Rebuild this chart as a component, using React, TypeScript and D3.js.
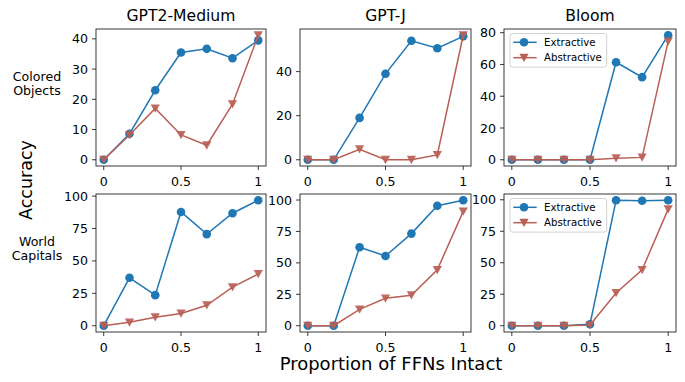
import React from 'react';
import * as d3 from 'd3';

// x positions: fraction of FFNs left intact
const proportions = [0, 1 / 6, 2 / 6, 3 / 6, 4 / 6, 5 / 6, 1];

const models = ['GPT2-Medium', 'GPT-J', 'Bloom'];
const tasks = [['Colored', 'Objects'], ['World', 'Capitals']];

// Colored Objects
const coloredExtractive = [
  [0, 8.6, 23, 35.5, 36.7, 33.6, 39.5],
  [0, 0, 19, 39, 54, 50.6, 56],
  [0, 0, 0, 0, 61.4, 52, 78.4],
];
const coloredAbstractive = [
  [0, 8.2, 17, 8.2, 4.8, 18.4, 41.2],
  [0, 0, 4.8, 0, 0, 2.2, 56.5],
  [0, 0, 0, 0, 1, 1.5, 74.5],
];

// World Capitals
const capitalsExtractive = [
  [0, 37, 23.6, 87.8, 70.7, 86.8, 96.8],
  [0, 0, 62.4, 55.5, 73.3, 95.5, 99.8],
  [0, 0, 0, 1.2, 99.6, 99.2, 99.6],
];
const capitalsAbstractive = [
  [0, 2.6, 6.6, 9.5, 15.8, 29.8, 40],
  [0, 0, 13, 21.8, 24.3, 44.5, 91],
  [0, 0, 0, 0.5, 26, 44.4, 92.6],
];

const yTicks = [
  [[0, 10, 20, 30, 40], [0, 20, 40], [0, 20, 40, 60, 80]],
  [[0, 25, 50, 75, 100], [0, 25, 50, 75, 100], [0, 25, 50, 75, 100]],
];
const xTicks = [0, 0.5, 1];
const xTickLabels = ['0', '0.5', '1'];

const seriesNames = ['Extractive', 'Abstractive'];
const BLUE = '#1f77b4';
const RED = '#b95f55';
const FONT = 'DejaVu Sans, sans-serif';

const colBounds = [[96, 266], [300, 471], [504, 676]];
const rowBounds = [[29, 166], [194, 332]];

const tri = (x: number, y: number, s: number) =>
  `M${x - s},${y - s * 0.85}L${x + s},${y - s * 0.85}L${x},${y + s * 0.95}Z`;

function Panel({ row, col }: { row: number; col: number }) {
  const [x0, x1] = colBounds[col];
  const [y0, y1] = rowBounds[row];
  const ext = row === 0 ? coloredExtractive[col] : capitalsExtractive[col];
  const abs = row === 0 ? coloredAbstractive[col] : capitalsAbstractive[col];
  const all = ext.concat(abs);
  const lo = d3.min(all)!;
  const hi = d3.max(all)!;
  const pad = (hi - lo) * 0.05;

  const x = d3.scaleLinear().domain([-0.05, 1.05]).range([x0, x1]);
  const y = d3.scaleLinear().domain([lo - pad, hi + pad]).range([y1, y0]);
  const line = d3.line<number>().x((_, i) => x(proportions[i])).y((d) => y(d));

  const showLegend = col === 2;
  return (
    <g>
      <rect x={x0} y={y0} width={x1 - x0} height={y1 - y0} fill="white" />
      <path d={line(ext)!} fill="none" stroke={BLUE} strokeWidth={1.5} />
      {ext.map((d, i) => (
        <circle key={'e' + i} cx={x(proportions[i])} cy={y(d)} r={4.3} fill={BLUE} />
      ))}
      <path d={line(abs)!} fill="none" stroke={RED} strokeWidth={1.5} />
      {abs.map((d, i) => (
        <path key={'a' + i} d={tri(x(proportions[i]), y(d), 4.6)} fill={RED} opacity={0.92} />
      ))}
      <rect x={x0} y={y0} width={x1 - x0} height={y1 - y0} fill="none" stroke="#222" strokeWidth={0.9} />
      {yTicks[row][col].map((t) => (
        <g key={'y' + t}>
          <line x1={x0 - 4} x2={x0} y1={y(t)} y2={y(t)} stroke="#222" strokeWidth={0.9} />
          <text x={x0 - 8} y={y(t)} dy="0.36em" textAnchor="end" fontSize={12.6} fontFamily={FONT}>
            {t}
          </text>
        </g>
      ))}
      {xTicks.map((t, i) => (
        <g key={'x' + t}>
          <line x1={x(t)} x2={x(t)} y1={y1} y2={y1 + 4} stroke="#222" strokeWidth={0.9} />
          <text x={x(t)} y={y1 + 20} textAnchor="middle" fontSize={12.6} fontFamily={FONT}>
            {xTickLabels[i]}
          </text>
        </g>
      ))}
      {row === 0 && (
        <text x={(x0 + x1) / 2} y={y0 - 8} textAnchor="middle" fontSize={15.6} fontFamily={FONT}>
          {models[col]}
        </text>
      )}
      {showLegend && (
        <g transform={`translate(${x0 + 6},${y0 + 4.5})`}>
          <rect width={96.7} height={33.6} rx={2.5} fill="white" fillOpacity={0.85} stroke="#ccc" strokeWidth={0.9} />
          {seriesNames.map((name, i) => (
            <g key={name} transform={`translate(0,${8.8 + i * 15.4})`}>
              <line x1={3.3} x2={26.7} y1={0} y2={0} stroke={i === 0 ? BLUE : RED} strokeWidth={1.5} />
              {i === 0 ? (
                <circle cx={14} cy={0} r={4.3} fill={BLUE} />
              ) : (
                <path d={tri(14, 0, 4.6)} fill={RED} />
              )}
              <text x={34} y={0} dy="0.36em" fontSize={10.2} fontFamily={FONT}>
                {name}
              </text>
            </g>
          ))}
        </g>
      )}
    </g>
  );
}

export default function App() {
  return (
    <svg width={685} height={382} style={{ position: 'absolute', left: 0, top: 0, background: 'white' }}>
      {tasks.map((_, r) => models.map((_m, c) => <Panel key={r + '-' + c} row={r} col={c} />))}
      {tasks.map((lines, r) => (
        <text key={'t' + r} x={37} y={r === 0 ? 80.5 : 245.5} textAnchor="middle" fontSize={12.6} fontFamily={FONT}>
          <tspan x={37}>{lines[0]}</tspan>
          <tspan x={37} dy={14.7}>{lines[1]}</tspan>
        </text>
      ))}
      <text transform="translate(31.5,180) rotate(-90)" textAnchor="middle" fontSize={17.5} fontFamily={FONT}>
        Accuracy
      </text>
      <text x={391} y={370} textAnchor="middle" fontSize={18} fontFamily={FONT}>
        Proportion of FFNs Intact
      </text>
    </svg>
  );
}
